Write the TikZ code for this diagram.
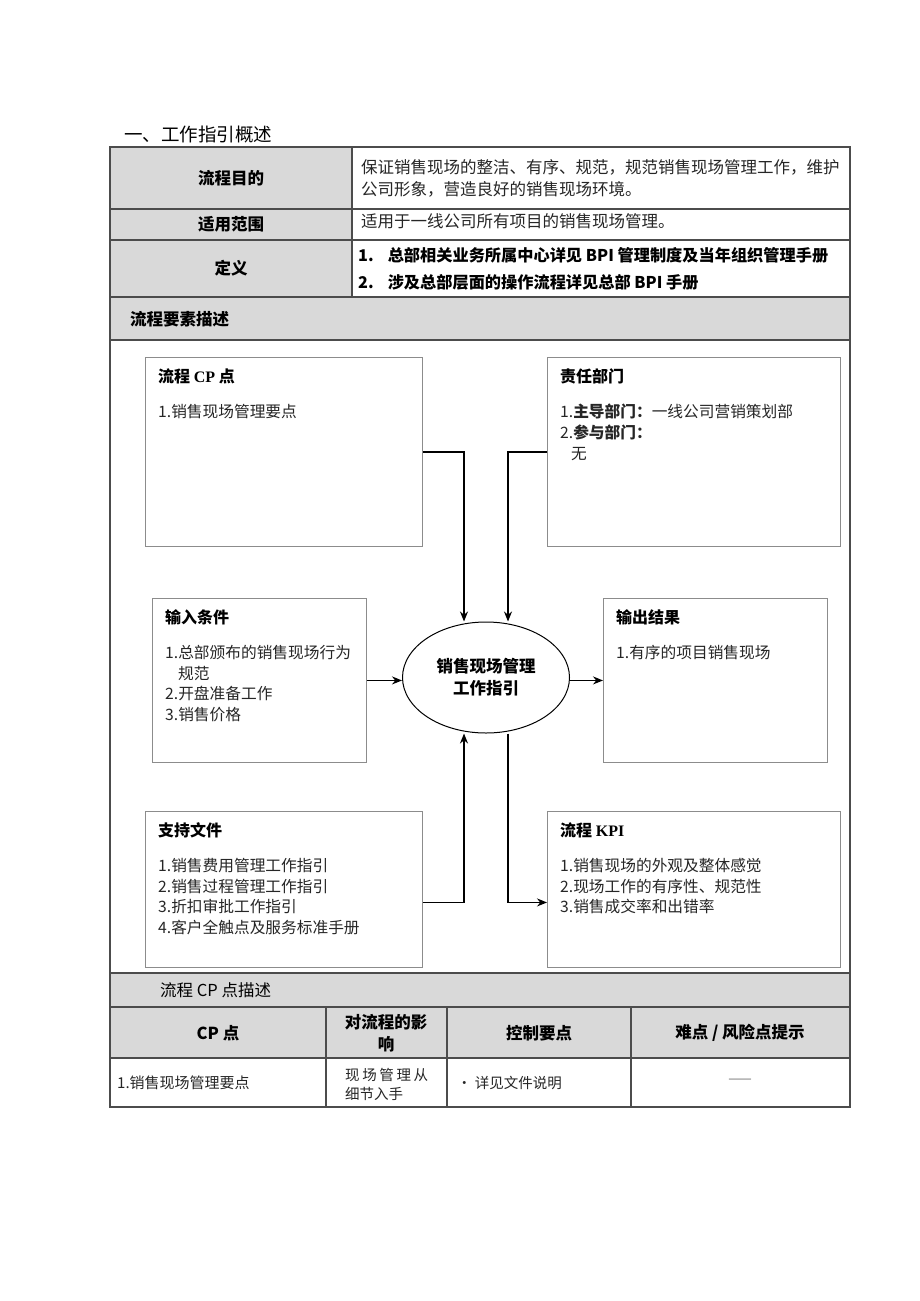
\documentclass[tikz,border=0pt]{standalone}
\usepackage{fontspec}
\setmainfont{Noto Sans CJK SC}
\newfontfamily\latn{Liberation Serif}
\usetikzlibrary{shapes.geometric,arrows.meta}

\tikzset{
  tblline/.style={draw=black!70, line width=1.1pt},
  graycell/.style={fill=black!15},
  cellhead/.style={font=\fontsize{16.5}{22}\selectfont\bfseries, inner sep=0pt},
  celltext/.style={font=\fontsize{16.5}{22}\selectfont, text=black!85, align=left, inner sep=0pt},
  gbox/.style={draw=black!45, line width=0.9pt, inner sep=0pt, anchor=north west},
  boxhead/.style={font=\fontsize{16}{20}\selectfont\bfseries, inner sep=0pt, anchor=west},
  boxbody/.style={font=\fontsize{15.7}{20.7}\selectfont, text=black!85, align=left, inner sep=0pt, anchor=north west},
  link/.style={line width=1.3pt, -{Stealth[length=10pt,width=8pt]}},
}

\begin{document}
\begin{tikzpicture}[x=1pt,y=-1pt]
  \useasboundingbox (0,0) rectangle (920,1301);
  \fill[white] (0,0) rectangle (920,1301);

  % overview table
  \node[font=\fontsize{18.5}{22}\selectfont, anchor=west, inner sep=0pt] (title) at (124,134) {一、工作指引概述};
  \fill[graycell] (110,147) rectangle (352,297);
  \fill[graycell] (110,297) rectangle (850,340);
  \fill[graycell] (110,973) rectangle (850,1058);
  \foreach \y in {209,240,297,340,973,1007,1058}
    \draw[tblline] (110,\y) -- (850,\y);
  \draw[tblline] (352,147) -- (352,297);
  \foreach \x in {326,447,631}
    \draw[tblline] (\x,1007) -- (\x,1107);
  \draw[tblline] (110,147) rectangle (850,1107);
  \draw[draw=black!70, line width=2pt] (110,1107) -- (850,1107);

  \node[cellhead] (purpose) at (231,178) {流程目的};
  \node[cellhead] (scope) at (231,224) {适用范围};
  \node[cellhead] (defn) at (231,268) {定义};
  \node[celltext, anchor=north west] (purposetxt) at (361,159)
    {保证销售现场的整洁、有序、规范，规范销售现场管理工作，维护\\公司形象，营造良好的销售现场环境。};
  \node[celltext, anchor=west] (scopetxt) at (361,221) {适用于一线公司所有项目的销售现场管理。};
  \node[celltext, font=\fontsize{16.2}{22}\selectfont\bfseries, text=black, anchor=west] (def1) at (358,255)
    {1.\hspace{14pt}总部相关业务所属中心详见 BPI 管理制度及当年组织管理手册};
  \node[celltext, font=\fontsize{16.2}{22}\selectfont\bfseries, text=black, anchor=west] (def2) at (358,282)
    {2.\hspace{14pt}涉及总部层面的操作流程详见总部 BPI 手册};
  \node[cellhead, anchor=west] (elements) at (130,319) {流程要素描述};

  % element boxes
  \def \Boxes {
    cp/145/357/277/189/{流程 {\latn CP} 点}/{1.销售现场管理要点},
    duty/547/357/293/189/{责任部门}/{1.\textbf{主导部门：}一线公司营销策划部\\2.\textbf{参与部门：}\\\hspace*{11pt}无},
    input/152/598/214/164/{输入条件}/{1.总部颁布的销售现场行为\\\hspace*{13pt}规范\\2.开盘准备工作\\3.销售价格},
    output/603/598/224/164/{输出结果}/{1.有序的项目销售现场},
    support/145/811/277/156/{支持文件}/{1.销售费用管理工作指引\\2.销售过程管理工作指引\\3.折扣审批工作指引\\4.客户全触点及服务标准手册},
    kpi/547/811/293/156/{流程 {\latn KPI}}/{1.销售现场的外观及整体感觉\\2.现场工作的有序性、规范性\\3.销售成交率和出错率}}

  \foreach \id / \x / \y / \w / \h / \head / \body in \Boxes {
    \node[gbox, minimum width=\w pt, minimum height=\h pt] (\id) at (\x,\y) {};
    \node[boxhead] (\id-head) at ([xshift=13pt,yshift=-19pt]\id.north west) {\head};
    \node[boxbody] (\id-body) at ([xshift=13pt,yshift=-47pt]\id.north west) {\body};
  }

  \node[draw, ellipse, line width=1pt, minimum width=167pt, minimum height=111pt, inner sep=0pt,
        align=center, font=\fontsize{16.5}{22}\selectfont\bfseries] (hub) at (486,677.5) {销售现场管理\\工作指引};

  \draw[link] (cp.east) -| ([xshift=-22pt]hub.north);
  \draw[link] (duty.west) -| ([xshift=22pt]hub.north);
  \draw[link] (input.east) -- (input.east -| hub.west);
  \draw[link] (hub.east |- output.west) -- (output.west);
  \draw[link] ([yshift=-13pt]support.east) -| ([xshift=-22pt]hub.south);
  \draw[link] ([xshift=22pt]hub.south) |- ([yshift=-13pt]kpi.west);

  % CP point table
  \node[cellhead, font=\fontsize{16.5}{22}\selectfont, anchor=west] (cpdesc) at (160,990) {流程 CP 点描述};
  \node[cellhead] (colcp) at (218,1033) {CP 点};
  \node[cellhead, align=center] (colimpact) at (386,1033) {对流程的影\\响};
  \node[cellhead] (colctrl) at (539,1033) {控制要点};
  \node[cellhead] (colrisk) at (740,1033) {难点 / 风险点提示};
  \node[celltext, font=\fontsize{15}{20}\selectfont, anchor=west] (cpitem) at (117,1083) {1.销售现场管理要点};
  \node[celltext, font=\fontsize{14.5}{19}\selectfont, anchor=west] (impact) at (345,1084)
    {\makebox[83pt][s]{现\hfill 场\hfill 管\hfill 理\hfill 从}\\细节入手};
  \node[celltext, font=\fontsize{14.5}{19}\selectfont, anchor=west] (ctrl) at (457,1083) {• 详见文件说明};
  \node[celltext, font=\fontsize{14}{19}\selectfont, text=black!55] (risk) at (740,1081) {——};
\end{tikzpicture}
\end{document}
